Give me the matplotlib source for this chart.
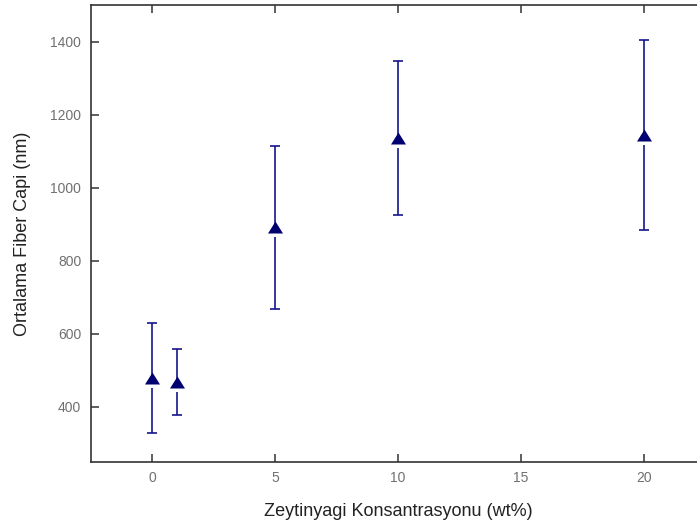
import matplotlib
matplotlib.use('Agg')
import matplotlib.pyplot as plt
import numpy as np

# data
konsantrasyon = [0, 1, 5, 10, 20]
fiber_capi = [479, 468, 892, 1136, 1145]
hata = [150, 90, 223, 210, 260]

x_ticks = [0, 5, 10, 15, 20]
y_ticks = [400, 600, 800, 1000, 1200, 1400]

plt.rcParams['font.family'] = ['Liberation Sans', 'DejaVu Sans']

fig = plt.figure(figsize=(6.97, 5.30), dpi=100)
# right spine sits just past the picture edge, like in the original
ax = fig.add_axes([0.1306, 0.1289, 0.8809, 0.8617])

navy = '#16168c'
# error bars first
ax.errorbar(konsantrasyon, fiber_capi, yerr=hata, fmt='none', ecolor=navy,
            elinewidth=1.2, capsize=3.6, capthick=1.2, zorder=2)

# white patch under the triangle base (small gap in the bar)
ms = 10.8
gap = [(-0.3, -0.8), (0.3, -0.8), (0.3, -1.35), (-0.3, -1.35)]
ax.plot(konsantrasyon, fiber_capi, linestyle='none', marker=gap,
        markersize=ms * 1.35, color='white', markeredgewidth=0, zorder=3)
# flat triangle marker
tri = [(0, 0.8), (-1, -0.8), (1, -0.8)]
ax.plot(konsantrasyon, fiber_capi, linestyle='none', marker=tri,
        markersize=ms, color='#000070', markeredgewidth=0, zorder=4)

ax.set_xlim(-2.5, 22.5)
ax.set_ylim(250, 1500)
ax.set_xticks(x_ticks)
ax.set_yticks(y_ticks)

for s in ax.spines.values():
    s.set_linewidth(1.2)
    s.set_color('#333333')

ax.tick_params(direction='in', length=6, width=1.1, color='#333333',
               top=True, right=True, labelsize=10, labelcolor='#707070', pad=7)

ax.set_xlabel('Zeytinyagi Konsantrasyonu (wt%)', fontsize=13, color='#222222', labelpad=13)
ax.set_ylabel('Ortalama Fiber Capi (nm)', fontsize=13, color='#222222', labelpad=14)

fig.savefig('out.png', dpi=100)
